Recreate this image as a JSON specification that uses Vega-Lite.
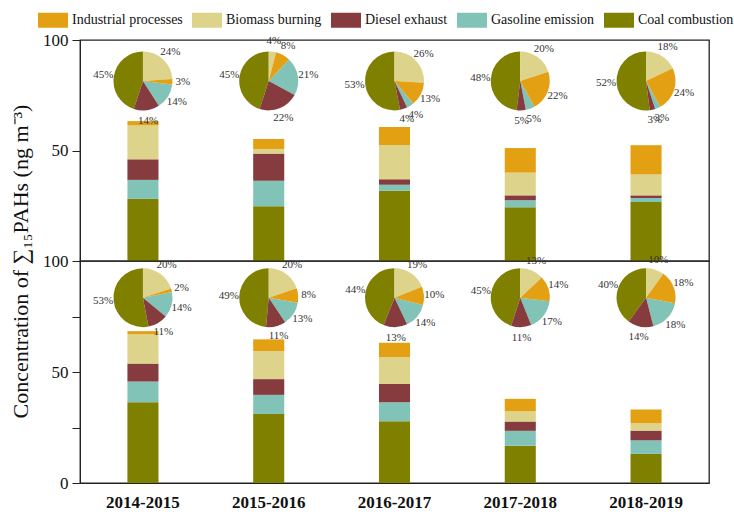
{
  "$schema": "https://vega.github.io/schema/vega-lite/v6.json",
  "autosize": {"type": "pad"},
  "padding": {"left": 8, "top": 5, "right": 5, "bottom": 5},
  "spacing": 0,
  "bounds": "flush",
  "config": {
    "font": "Liberation Serif",
    "view": {"stroke": "#222", "strokeWidth": 1.3},
    "axis": {"domainColor": "#222", "tickColor": "#222", "labelColor": "#111", "labelFont": "Liberation Serif", "titleFont": "Liberation Serif", "grid": false, "titleColor": "#111"}
  },
  "data": {"values": [
    {"panel":"top","period":"2014-2015","source":"Coal combustion","conc":28.1,"pct":45},
    {"panel":"top","period":"2014-2015","source":"Gasoline emission","conc":8.6,"pct":14},
    {"panel":"top","period":"2014-2015","source":"Diesel exhaust","conc":9.3,"pct":14},
    {"panel":"top","period":"2014-2015","source":"Biomass burning","conc":15.4,"pct":24},
    {"panel":"top","period":"2014-2015","source":"Industrial processes","conc":1.9,"pct":3},
    {"panel":"top","period":"2015-2016","source":"Coal combustion","conc":24.8,"pct":45},
    {"panel":"top","period":"2015-2016","source":"Gasoline emission","conc":11.5,"pct":21},
    {"panel":"top","period":"2015-2016","source":"Diesel exhaust","conc":12.3,"pct":22},
    {"panel":"top","period":"2015-2016","source":"Biomass burning","conc":2.1,"pct":4},
    {"panel":"top","period":"2015-2016","source":"Industrial processes","conc":4.5,"pct":8},
    {"panel":"top","period":"2016-2017","source":"Coal combustion","conc":31.8,"pct":53},
    {"panel":"top","period":"2016-2017","source":"Gasoline emission","conc":2.7,"pct":4},
    {"panel":"top","period":"2016-2017","source":"Diesel exhaust","conc":2.5,"pct":4},
    {"panel":"top","period":"2016-2017","source":"Biomass burning","conc":15.5,"pct":26},
    {"panel":"top","period":"2016-2017","source":"Industrial processes","conc":8.1,"pct":13},
    {"panel":"top","period":"2017-2018","source":"Coal combustion","conc":24.3,"pct":48},
    {"panel":"top","period":"2017-2018","source":"Gasoline emission","conc":3.2,"pct":5},
    {"panel":"top","period":"2017-2018","source":"Diesel exhaust","conc":2.2,"pct":5},
    {"panel":"top","period":"2017-2018","source":"Biomass burning","conc":10.3,"pct":20},
    {"panel":"top","period":"2017-2018","source":"Industrial processes","conc":11.1,"pct":22},
    {"panel":"top","period":"2018-2019","source":"Coal combustion","conc":26.7,"pct":52},
    {"panel":"top","period":"2018-2019","source":"Gasoline emission","conc":1.8,"pct":3},
    {"panel":"top","period":"2018-2019","source":"Diesel exhaust","conc":1.2,"pct":3},
    {"panel":"top","period":"2018-2019","source":"Biomass burning","conc":9.5,"pct":18},
    {"panel":"top","period":"2018-2019","source":"Industrial processes","conc":13.2,"pct":24},
    {"panel":"bottom","period":"2014-2015","source":"Coal combustion","conc":36.4,"pct":53},
    {"panel":"bottom","period":"2014-2015","source":"Gasoline emission","conc":9.3,"pct":14},
    {"panel":"bottom","period":"2014-2015","source":"Diesel exhaust","conc":8.1,"pct":11},
    {"panel":"bottom","period":"2014-2015","source":"Biomass burning","conc":13.2,"pct":20},
    {"panel":"bottom","period":"2014-2015","source":"Industrial processes","conc":1.4,"pct":2},
    {"panel":"bottom","period":"2015-2016","source":"Coal combustion","conc":31.1,"pct":49},
    {"panel":"bottom","period":"2015-2016","source":"Gasoline emission","conc":8.6,"pct":13},
    {"panel":"bottom","period":"2015-2016","source":"Diesel exhaust","conc":7.1,"pct":11},
    {"panel":"bottom","period":"2015-2016","source":"Biomass burning","conc":12.6,"pct":20},
    {"panel":"bottom","period":"2015-2016","source":"Industrial processes","conc":5.3,"pct":8},
    {"panel":"bottom","period":"2016-2017","source":"Coal combustion","conc":27.8,"pct":44},
    {"panel":"bottom","period":"2016-2017","source":"Gasoline emission","conc":8.6,"pct":14},
    {"panel":"bottom","period":"2016-2017","source":"Diesel exhaust","conc":8.3,"pct":13},
    {"panel":"bottom","period":"2016-2017","source":"Biomass burning","conc":12.0,"pct":19},
    {"panel":"bottom","period":"2016-2017","source":"Industrial processes","conc":6.5,"pct":10},
    {"panel":"bottom","period":"2017-2018","source":"Coal combustion","conc":16.8,"pct":45},
    {"panel":"bottom","period":"2017-2018","source":"Gasoline emission","conc":6.7,"pct":17},
    {"panel":"bottom","period":"2017-2018","source":"Diesel exhaust","conc":4.2,"pct":11},
    {"panel":"bottom","period":"2017-2018","source":"Biomass burning","conc":4.6,"pct":13},
    {"panel":"bottom","period":"2017-2018","source":"Industrial processes","conc":5.6,"pct":14},
    {"panel":"bottom","period":"2018-2019","source":"Coal combustion","conc":13.1,"pct":40},
    {"panel":"bottom","period":"2018-2019","source":"Gasoline emission","conc":6.1,"pct":18},
    {"panel":"bottom","period":"2018-2019","source":"Diesel exhaust","conc":4.4,"pct":14},
    {"panel":"bottom","period":"2018-2019","source":"Biomass burning","conc":3.3,"pct":10},
    {"panel":"bottom","period":"2018-2019","source":"Industrial processes","conc":6.2,"pct":18}
  ]},
  "transform": [
    {"calculate": "indexof(['Coal combustion','Gasoline emission','Diesel exhaust','Biomass burning','Industrial processes'], datum.source)", "as": "barOrder"},
    {"calculate": "indexof(['Biomass burning','Industrial processes','Gasoline emission','Diesel exhaust','Coal combustion'], datum.source)", "as": "pieOrder"},
    {"stack": "pct", "groupby": ["panel", "period"], "sort": [{"field": "pieOrder", "order": "ascending"}], "offset": "normalize", "as": ["t0", "t1"]},
    {"calculate": "(datum.t0 + datum.t1) / 2", "as": "tm"},
    {"calculate": "datum.pct + '%'", "as": "label"}
  ],
  "vconcat": [
    {
      "width": 629, "height": 221,
      "transform": [{"filter": "datum.panel === 'top'"}],
      "encoding": {
        "x": {"field": "period", "type": "nominal", "scale": {"paddingInner": 0.753, "paddingOuter": 0.377}, "axis": null}
      },
      "layer": [
        {
          "mark": {"type": "bar"},
          "encoding": {
            "y": {"field": "conc", "type": "quantitative", "stack": "zero", "scale": {"domain": [0, 100], "nice": false},
                  "title": "Concentration of ∑₁₅PAHs (ng m⁻³)",
                  "axis": {"values": [50, 100], "tickSize": 8, "labelFontSize": 17, "labelPadding": 4, "titleX": -60, "titleY": 221, "titleAlign": "center", "titleBaseline": "middle", "titleFontSize": 22, "titleFontWeight": "normal"}},
            "color": {"field": "source", "type": "nominal",
                      "scale": {"domain": ["Industrial processes", "Biomass burning", "Diesel exhaust", "Gasoline emission", "Coal combustion"],
                                "range": ["#E3A013", "#DDD38A", "#863B3F", "#82C3B8", "#808000"]},
                      "legend": {"orient": "none", "legendX": -42, "legendY": -35, "direction": "horizontal", "columns": 5, "title": null,
                                 "symbolType": "M-1,-0.5H1V0.5H-1Z", "symbolSize": 900, "symbolStrokeWidth": 0,
                                 "labelFontSize": 14, "labelFont": "Liberation Serif", "labelOffset": 4, "columnPadding": 9, "labelColor": "#111"}},
            "order": {"field": "barOrder", "type": "quantitative"}
          }
        },
        {
          "mark": {"type": "arc", "outerRadius": 29.5},
          "encoding": {
            "y": {"datum": 81.5, "type": "quantitative", "title": "Concentration of ∑₁₅PAHs (ng m⁻³)"},
            "theta": {"field": "t0", "type": "quantitative", "scale": {"domain": [0, 1]}, "stack": false},
            "theta2": {"field": "t1"},
            "color": {"field": "source", "type": "nominal"}
          }
        },
        {
          "mark": {"type": "text", "radius": 40, "fontSize": 11, "font": "Liberation Serif", "color": "#333", "align": "center", "baseline": "middle"},
          "encoding": {
            "y": {"datum": 81.5, "type": "quantitative", "title": "Concentration of ∑₁₅PAHs (ng m⁻³)"},
            "theta": {"field": "tm", "type": "quantitative", "scale": {"domain": [0, 1]}, "stack": false},
            "text": {"field": "label"}
          }
        }
      ]
    },
    {
      "width": 629, "height": 222,
      "transform": [{"filter": "datum.panel === 'bottom'"}],
      "encoding": {
        "x": {"field": "period", "type": "nominal", "scale": {"paddingInner": 0.753, "paddingOuter": 0.377},
              "axis": {"title": null, "ticks": false, "labelAngle": 0, "labelFontSize": 17, "labelFontWeight": "bold", "labelPadding": 11, "labelColor": "#111"}}
      },
      "layer": [
        {
          "mark": {"type": "bar"},
          "encoding": {
            "y": {"field": "conc", "type": "quantitative", "stack": "zero", "scale": {"domain": [0, 100], "nice": false}, "title": null,
                  "axis": {"values": [0, 25, 50, 75, 100], "labelExpr": "datum.value % 50 === 0 ? datum.label : ''", "tickSize": 8, "labelFontSize": 17, "labelPadding": 4}},
            "color": {"field": "source", "type": "nominal"},
            "order": {"field": "barOrder", "type": "quantitative"}
          }
        },
        {
          "mark": {"type": "arc", "outerRadius": 29.5},
          "encoding": {
            "y": {"datum": 83.5, "type": "quantitative", "title": null},
            "theta": {"field": "t0", "type": "quantitative", "scale": {"domain": [0, 1]}, "stack": false},
            "theta2": {"field": "t1"},
            "color": {"field": "source", "type": "nominal"}
          }
        },
        {
          "mark": {"type": "text", "radius": 40, "fontSize": 11, "font": "Liberation Serif", "color": "#333", "align": "center", "baseline": "middle"},
          "encoding": {
            "y": {"datum": 83.5, "type": "quantitative", "title": null},
            "theta": {"field": "tm", "type": "quantitative", "scale": {"domain": [0, 1]}, "stack": false},
            "text": {"field": "label"}
          }
        }
      ]
    }
  ]
}
